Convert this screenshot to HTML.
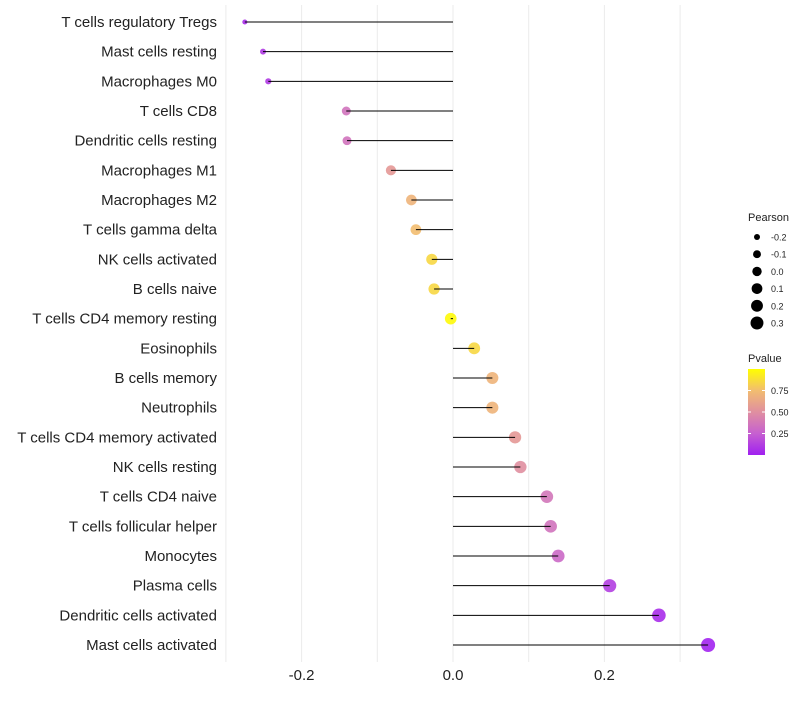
<!DOCTYPE html>
<html><head><meta charset="utf-8"><style>
body{margin:0;background:#fff;font-family:"Liberation Sans",sans-serif}
svg text{font-family:"Liberation Sans",sans-serif}
</style></head><body>
<svg id="chart" width="800" height="700"></svg>
<script>
const categories=["T cells regulatory  Tregs","Mast cells resting","Macrophages M0","T cells CD8","Dendritic cells resting","Macrophages M1","Macrophages M2","T cells gamma delta","NK cells activated","B cells naive","T cells CD4 memory resting","Eosinophils","B cells memory","Neutrophils","T cells CD4 memory activated","NK cells resting","T cells CD4 naive","T cells follicular helper","Monocytes","Plasma cells","Dendritic cells activated","Mast cells activated"];
const pearson=[-0.275,-0.251,-0.244,-0.141,-0.140,-0.082,-0.055,-0.049,-0.028,-0.025,-0.003,0.028,0.052,0.052,0.082,0.089,0.124,0.129,0.139,0.207,0.272,0.337];
const pvalue=[0.05,0.1,0.1,0.35,0.35,0.55,0.7,0.75,0.85,0.85,0.98,0.85,0.7,0.7,0.55,0.5,0.37,0.35,0.3,0.12,0.05,0.01];
const xTicks=[-0.2,0,0.2];
const xTickLabels=["-0.2","0.0","0.2"];
const sizeLegend=[-0.2,-0.1,0.0,0.1,0.2,0.3];
const pLegend=[0.25,0.5,0.75];

const NS="http://www.w3.org/2000/svg";
const svg=document.getElementById('chart');
function el(t,a,p){const e=document.createElementNS(NS,t);for(const k in a)e.setAttribute(k,a[k]);(p||svg).appendChild(e);return e;}
const x=v=>453+v*757;
const y=i=>22+i*(623/21);
const rad=v=>Math.sqrt(Math.max(2,v<0?34+100*v:34+45*v));
const lrad=v=>Math.sqrt(Math.max(1,9+66*(v+0.2)));
const stops=[[0,[160,32,240]],[0.25,[198,96,208]],[0.5,[224,143,160]],[0.75,[242,189,112]],[1,[255,255,0]]];
function col(p){for(let i=0;i<stops.length-1;i++){const[a,c1]=stops[i],[b,c2]=stops[i+1];if(p<=b){const t=(p-a)/(b-a);return 'rgb('+c1.map((c,j)=>Math.round(c+(c2[j]-c)*t)).join(',')+')';}}return 'rgb(255,255,0)';}

for(let v=-0.3;v<=0.35;v+=0.1){const g=el('line',{x1:x(v),x2:x(v),y1:5,y2:662,stroke:'#ebebeb','stroke-width':1});

}
xTicks.forEach((v,i)=>{const t=el('text',{x:x(v),y:680,'text-anchor':'middle','font-size':15,fill:'#222'});t.textContent=xTickLabels[i];

});

categories.forEach((c,i)=>{
const t=el('text',{x:217,y:y(i)+5,'text-anchor':'end','font-size':15,fill:'#222'});t.textContent=c;


const d=el('circle',{cx:x(pearson[i]),cy:y(i),r:rad(pearson[i]),fill:col(pvalue[i]),'fill-opacity':0.9});


const l=el('line',{x1:x(0),x2:x(pearson[i]),y1:y(i),y2:y(i),stroke:'#000','stroke-width':1});


});

const lt=el('text',{x:748,y:221,'font-size':11,fill:'#222'});lt.textContent='Pearson';


sizeLegend.forEach((v,i)=>{const cy=237+i*17.2;
const c=el('circle',{cx:757,cy:cy,r:lrad(v),fill:'#000'});


const t=el('text',{x:771,y:cy+3.5,'font-size':9,fill:'#222'});t.textContent=v.toFixed(1);

});
const pt=el('text',{x:748,y:362,'font-size':11,fill:'#222'});pt.textContent='Pvalue';


const defs=el('defs',{});const lg=el('linearGradient',{id:'pg',x1:0,y1:1,x2:0,y2:0},defs);
stops.forEach(s=>el('stop',{offset:s[0],'stop-color':'rgb('+s[1].join(',')+')'},lg));
const bar=el('rect',{x:748,y:369,width:17,height:86,fill:'url(#pg)'});


pLegend.forEach(p=>{const cy=455-p*86;
el('line',{x1:748,x2:751,y1:cy,y2:cy,stroke:'#fff'});el('line',{x1:762,x2:765,y1:cy,y2:cy,stroke:'#fff'});
const t=el('text',{x:771,y:cy+3.5,'font-size':9,fill:'#222'});t.textContent=p.toFixed(2);

});
</script>
</body></html>
